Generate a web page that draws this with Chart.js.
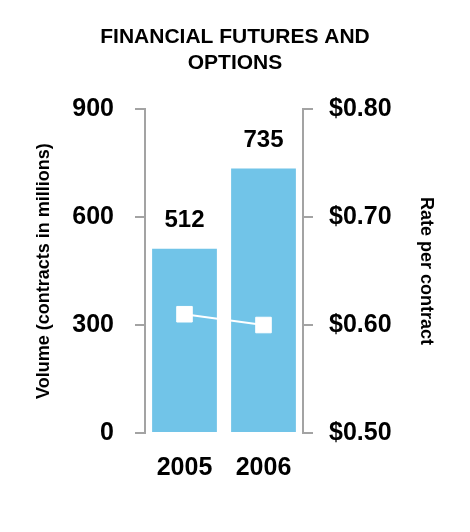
<!DOCTYPE html>
<html>
<head>
<meta charset="utf-8">
<script src="https://cdn.jsdelivr.net/npm/chart.js@4"></script>
<style>
  html, body { margin: 0; padding: 0; background: #fff; }
  #wrap { width: 470px; height: 532px; }
</style>
</head>
<body>
<div id="wrap"><canvas id="chart" width="470" height="532"></canvas></div>
<script>
// chart data
const categories = ["2005", "2006"];
const volume = [512, 735];          // contracts in millions
const ratePerContract = [0.61, 0.60];
const volumeTicks = [0, 300, 600, 900];
const rateTicks = [0.5, 0.6, 0.7, 0.8];

const FONT = "'Liberation Sans', Arial, sans-serif";
const AXIS_GRAY = "#a3a3a3";

// draws the numbers above the bars (bar dataset is index 1)
const barLabels = {
  id: "barLabels",
  afterDatasetsDraw(chart) {
    const ctx = chart.ctx;
    const meta = chart.getDatasetMeta(1);
    ctx.save();
    ctx.font = "bold 24px " + FONT;
    ctx.fillStyle = "#000";
    ctx.textAlign = "center";
    ctx.textBaseline = "middle";
    meta.data.forEach((bar, i) => {
      ctx.fillText(volume[i], bar.x, bar.y - 28);
    });
    ctx.restore();
  },
};

new Chart(document.getElementById("chart"), {
  data: {
    labels: categories,
    datasets: [
      {
        type: "line",
        data: ratePerContract,
        yAxisID: "y1",
        borderColor: "#fff",
        borderWidth: 2,
        pointStyle: "rect",
        pointRadius: 11,
        pointBorderWidth: 1,
        pointBackgroundColor: "#fff",
        pointBorderColor: "#fff",
        order: 0,
      },
      {
        type: "bar",
        data: volume,
        yAxisID: "y",
        backgroundColor: "#71c4e8",
        categoryPercentage: 1,
        barPercentage: 0.82,
        order: 1,
      },
    ],
  },
  plugins: [barLabels],
  options: {
    responsive: false,
    animation: false,
    layout: { padding: { left: 29, right: 29, top: 0, bottom: 0 } },
    plugins: {
      legend: { display: false },
      tooltip: { enabled: false },
      title: {
        display: true,
        text: ["FINANCIAL FUTURES AND", "OPTIONS"],
        color: "#000",
        font: { family: FONT, size: 21, weight: "bold", lineHeight: 1.24 },
        padding: { top: 24, bottom: 33 },
      },
    },
    scales: {
      x: {
        grid: { display: false },
        border: { display: false },
        ticks: { color: "#000", font: { family: FONT, size: 25, weight: "bold" }, padding: 12 },
        afterFit(s) { s.height = 99; },
      },
      y: {
        position: "left",
        min: 0,
        max: 900,
        afterBuildTicks(s) { s.ticks = volumeTicks.map(v => ({ value: v })); },
        ticks: { color: "#000", font: { family: FONT, size: 25, weight: "bold" }, padding: 21 },
        grid: { drawOnChartArea: false, tickLength: 10, color: AXIS_GRAY, lineWidth: 2 },
        border: { color: AXIS_GRAY, width: 2 },
        title: {
          display: true,
          text: "Volume (contracts in millions)",
          color: "#000",
          font: { family: FONT, size: 18, weight: "bold" },
        },
        afterFit(s) { s.width = 116; },
      },
      y1: {
        position: "right",
        min: 0.5,
        max: 0.8,
        afterBuildTicks(s) { s.ticks = rateTicks.map(v => ({ value: v })); },
        ticks: {
          color: "#000",
          font: { family: FONT, size: 25, weight: "bold" },
          padding: 16,
          callback: v => "$" + Number(v).toFixed(2),
        },
        grid: { drawOnChartArea: false, tickLength: 10, color: AXIS_GRAY, lineWidth: 2 },
        border: { color: AXIS_GRAY, width: 2 },
        title: {
          display: true,
          text: "Rate per contract",
          color: "#000",
          font: { family: FONT, size: 18, weight: "bold" },
        },
        afterFit(s) { s.width = 138; },
      },
    },
  },
});
</script>
</body>
</html>
